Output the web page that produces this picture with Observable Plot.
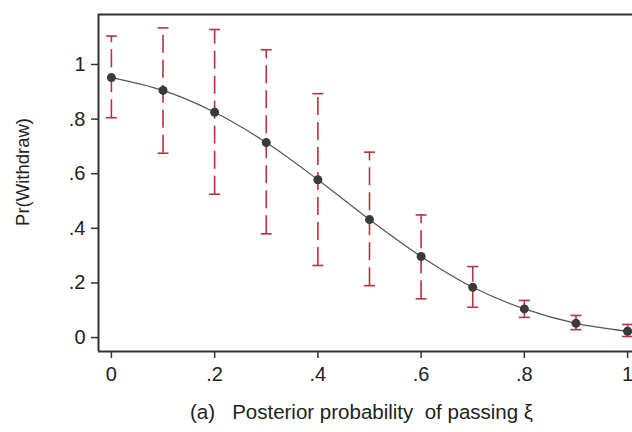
<!DOCTYPE html>
<html>
<head>
<meta charset="utf-8">
<script src="https://cdn.jsdelivr.net/npm/d3@7"></script>
<script src="https://cdn.jsdelivr.net/npm/@observablehq/plot@0.6"></script>
<style>
  html, body { margin: 0; padding: 0; background: white; }
</style>
</head>
<body>
<div id="chart"></div>
<script>
// Data
const xs     = [0, 0.1, 0.2, 0.3, 0.4, 0.5, 0.6, 0.7, 0.8, 0.9, 1];
const means  = [0.952, 0.905, 0.825, 0.714, 0.578, 0.432, 0.297, 0.184, 0.105, 0.052, 0.023];
const upper  = [1.104, 1.134, 1.128, 1.054, 0.893, 0.679, 0.449, 0.260, 0.136, 0.081, 0.048];
const lower  = [0.805, 0.675, 0.525, 0.380, 0.264, 0.190, 0.142, 0.111, 0.074, 0.029, 0.004];
const xTicks = [0, 0.2, 0.4, 0.6, 0.8, 1];
const yTicks = [0, 0.2, 0.4, 0.6, 0.8, 1];
const xDomain = [-0.025, 1.025];
const yDomain = [-0.051, 1.183];
const yLabel = "Pr(Withdraw)";
const xLabel = "(a)   Posterior probability  of passing ξ";

const data = xs.map((x, i) => ({x, mean: means[i], hi: upper[i], lo: lower[i]}));
const stataFmt = d => (d === 0 || d === 1) ? String(d) : String(d).replace(/^0/, "");

// horizontal cap symbol for error bars
const capSymbol = {
  draw(context, size) {
    const h = Math.sqrt(size / Math.PI);
    context.moveTo(-h, 0);
    context.lineTo(h, 0);
  }
};

const red = "#b8323f";
const axisColor = "#333";

const chart = Plot.plot({
  width: 632,
  height: 432,
  marginLeft: 98,
  marginTop: 14,
  marginBottom: 81,
  marginRight: 0,
  x: {domain: xDomain, range: [98, 640]},
  y: {domain: yDomain, range: [351, 14]},
  style: {fontFamily: "'Liberation Sans', Arial, sans-serif", fontSize: "20px", color: "#222", background: "white", overflow: "hidden"},
  marks: [
    // error bars
    Plot.ruleX(data, {x: "x", y1: "lo", y2: "hi", stroke: red, strokeWidth: 1.6, strokeDasharray: "18,7"}),
    Plot.dot(data, {x: "x", y: "hi", symbol: capSymbol, r: 5.5, stroke: red, strokeWidth: 1.6, fill: "none"}),
    Plot.dot(data, {x: "x", y: "lo", symbol: capSymbol, r: 5.5, stroke: red, strokeWidth: 1.6, fill: "none"}),
    // fitted line
    Plot.line(data, {x: "x", y: "mean", curve: "catmull-rom", stroke: "#555", strokeWidth: 1.2}),
    Plot.dot(data, {x: "x", y: "mean", r: 4.5, fill: "#3a3a3a", stroke: "none"}),
    // frame (top, bottom, left)
    Plot.ruleY(yDomain, {stroke: axisColor, strokeWidth: 2}),
    Plot.ruleX([xDomain[0]], {stroke: axisColor, strokeWidth: 2}),
    // axes
    Plot.axisY({ticks: yTicks, tickFormat: stataFmt, tickSize: 7, tickPadding: 6, stroke: axisColor, strokeWidth: 1.5, label: null, fontSize: 20}),
    Plot.axisX({ticks: xTicks, tickFormat: stataFmt, tickSize: 7, tickPadding: 8, stroke: axisColor, strokeWidth: 1.5, label: null, fontSize: 20}),
    // axis titles
    Plot.text([yLabel], {frameAnchor: "left", textAnchor: "middle", rotate: -90, dx: -75, dy: -11, fontSize: 18.5, fill: "#222"}),
    Plot.text([xLabel], {frameAnchor: "bottom", textAnchor: "middle", dx: -4, dy: 67, fontSize: 20.5, fill: "#222"})
  ]
});

document.getElementById("chart").appendChild(chart);
</script>
</body>
</html>
